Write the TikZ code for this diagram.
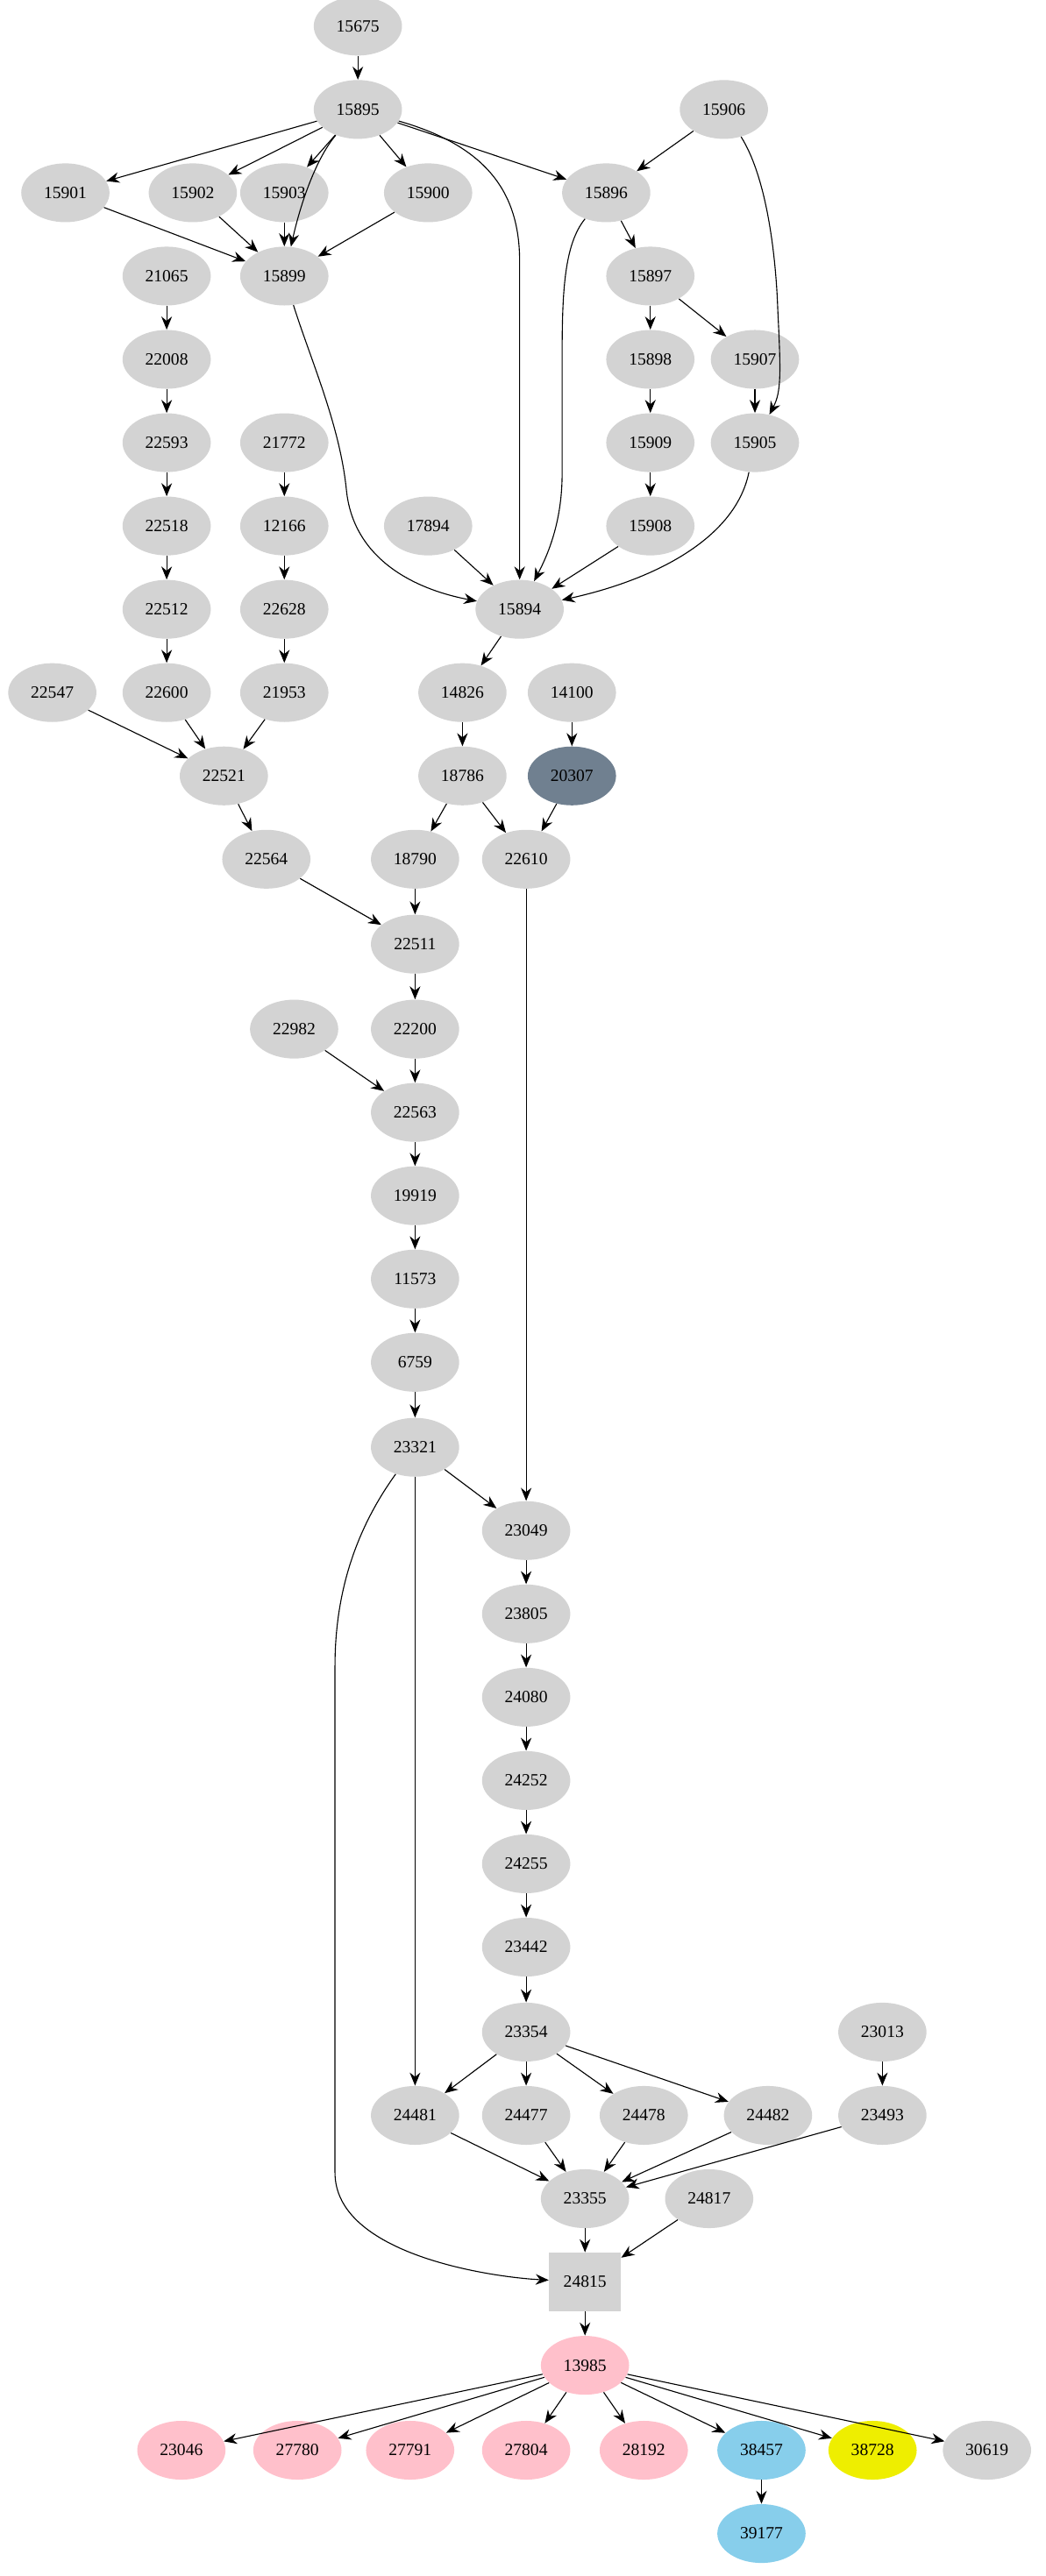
\documentclass[tikz,border=0pt]{standalone}
\usepackage{fontspec}
\setmainfont{Liberation Serif}
\usetikzlibrary{arrows.meta,shapes.geometric}
\definecolor{gr}{HTML}{D3D3D3}
\definecolor{pk}{HTML}{FFC0CB}
\definecolor{sb}{HTML}{87CEEB}
\definecolor{sg}{HTML}{708090}
\definecolor{yl}{HTML}{EEEE00}
\begin{document}
\begin{tikzpicture}[x=1pt,y=-1pt,
 nd/.style={ellipse,fill=gr,minimum width=54pt,minimum height=36pt,inner sep=0pt,font=\fontsize{10.5}{12}\selectfont},
 bx/.style={rectangle,fill=gr,minimum width=44pt,minimum height=36pt,inner sep=0pt,font=\fontsize{10.5}{12}\selectfont},
 ar/.style={-{Stealth[length=8pt,width=6.5pt]},line width=0.6pt}]
\useasboundingbox (0,0) rectangle (640,1577);
\foreach \n/\x/\y in {15675/219/16,15895/219/67,15906/443/67,15901/40/118,15902/118/118,15903/174/118,15900/262/118,15896/371/118,
15899/174/169,21065/102/169,15897/398/169,22008/102/220,15898/398/220,15907/462/220,22593/102/271,21772/174/271,15909/398/271,15905/462/271,
22518/102/322,12166/174/322,17894/262/322,15908/398/322,22512/102/373,22628/174/373,15894/318/373,
22547/32/424,22600/102/424,21953/174/424,14826/283/424,14100/350/424,22521/137/475,18786/283/475,
22564/163/526,18790/254/526,22610/322/526,22511/254/578,22982/180/630,22200/254/630,22563/254/681,19919/254/732,11573/254/783,6759/254/834,23321/254/886,
23049/322/937,23805/322/988,24080/322/1039,24252/322/1090,24255/322/1141,23442/322/1192,23354/322/1244,23013/540/1244,
24481/254/1295,24477/322/1295,24478/394/1295,24482/470/1295,23493/540/1295,23355/358/1346,24817/434/1346,30619/604/1500}
 \node[nd] (n\n) at (\x,\y) {\n};
\node[nd,fill=sg] (n20307) at (350,475) {20307};
\node[bx] (n24815) at (358,1397) {24815};
\node[nd,fill=pk] (n13985) at (358,1448) {13985};
\foreach \n/\x in {23046/111,27780/182,27791/251,27804/322,28192/394}
 \node[nd,fill=pk] (n\n) at (\x,1500) {\n};
\node[nd,fill=sb] (n38457) at (466,1500) {38457};
\node[nd,fill=yl] (n38728) at (534,1500) {38728};
\node[nd,fill=sb] (n39177) at (466,1551) {39177};
\foreach \a/\b in {15675/15895,15895/15901,15895/15902,15895/15903,15895/15900,15895/15896,15906/15896,
15901/15899,15902/15899,15903/15899,15900/15899,15896/15897,15897/15898,15897/15907,15898/15909,15907/15905,15909/15908,15908/15894,17894/15894,
21065/22008,22008/22593,22593/22518,22518/22512,22512/22600,22600/22521,21772/12166,12166/22628,22628/21953,21953/22521,22547/22521,
22521/22564,22564/22511,15894/14826,14826/18786,18786/18790,18786/22610,14100/20307,20307/22610,18790/22511,22511/22200,22200/22563,22982/22563,
22563/19919,19919/11573,11573/6759,6759/23321,23321/23049,23321/24481,22610/23049,23049/23805,23805/24080,24080/24252,24252/24255,24255/23442,23442/23354,
23354/24481,23354/24477,23354/24478,23354/24482,23013/23493,24481/23355,24477/23355,24478/23355,24482/23355,23493/23355,23355/24815,24817/24815,24815/13985,
13985/23046,13985/27780,13985/27791,13985/27804,13985/28192,13985/38457,13985/38728,13985/30619,38457/39177}
 \draw[ar] (n\a) -- (n\b);
\draw[ar] (n15895) .. controls (195,95) and (185,120) .. (n15899);
\draw[ar] (n15895) .. controls (300,90) and (318,120) .. (318,160) -- (n15894);
\draw[ar] (n15906) .. controls (470,110) and (475,160) .. (476,190) .. controls (478,230) and (478,240) .. (n15905);
\draw[ar] (n15896) .. controls (345,150) and (344,180) .. (344,220) -- (344,290) .. controls (344,320) and (335,340) .. (n15894);
\draw[ar] (n15905) .. controls (450,330) and (400,355) .. (n15894);
\draw[ar] (n15899) .. controls (190,220) and (208,260) .. (212,300) .. controls (216,340) and (250,360) .. (n15894);
\draw[ar] (n23321) .. controls (215,940) and (205,980) .. (205,1020) -- (205,1330) .. controls (205,1380) and (300,1394) .. (n24815);
\end{tikzpicture}
\end{document}
